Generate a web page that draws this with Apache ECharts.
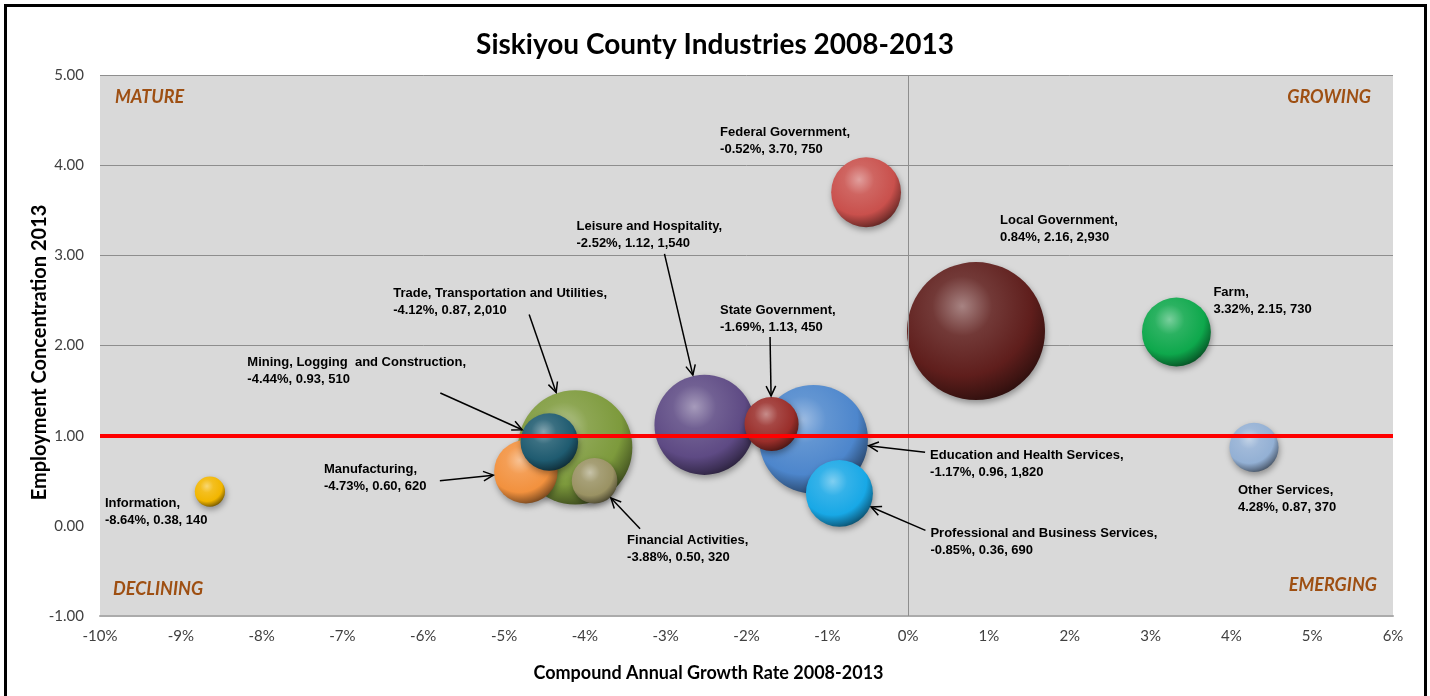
<!DOCTYPE html>
<html><head><meta charset="utf-8">
<script src="https://cdn.jsdelivr.net/npm/echarts@6/dist/echarts.min.js"></script>
<style>html,body{margin:0;padding:0;background:#fff}#c{width:1430px;height:696px}</style>
</head><body><div id="c"></div>
<script>
// ---------------- data ----------------
const industries = ['Information','Manufacturing','Mining, Logging  and Construction','Trade, Transportation and Utilities','Financial Activities','Leisure and Hospitality','State Government','Education and Health Services','Professional and Business Services','Federal Government','Local Government','Farm','Other Services'];
const growthRate = [-8.64,-4.73,-4.44,-4.12,-3.88,-2.52,-1.69,-1.17,-0.85,-0.52,0.84,3.32,4.28];
const concentration = [0.38,0.60,0.93,0.87,0.50,1.12,1.13,0.96,0.36,3.70,2.16,2.15,0.87];
const employment = [140,620,510,2010,320,1540,450,1820,690,750,2930,730,370];
const xTickValues = [-10,-9,-8,-7,-6,-5,-4,-3,-2,-1,0,1,2,3,4,5,6];
const yTickValues = [-1,0,1,2,3,4,5];
const quadrantLabels = ['MATURE','GROWING','DECLINING','EMERGING'];

// ---------------- style / layout ----------------
const bubbleColors = {
  'Information':'#f2b600','Manufacturing':'#f2913e','Mining, Logging  and Construction':'#1f5b70',
  'Trade, Transportation and Utilities':'#7d9a3c','Financial Activities':'#9a9263','Leisure and Hospitality':'#5e4a84',
  'State Government':'#9a2e2a','Education and Health Services':'#4d86cc','Professional and Business Services':'#18a8e6',
  'Federal Government':'#c9504c','Local Government':'#5f1e1c','Farm':'#0ea84c','Other Services':'#93b0d4'
};
// label top-left offset from bubble centre (px)
const labelOffsets = {
  'Information':[-105,3.5],'Manufacturing':[-202,-10.5],'Mining, Logging  and Construction':[-302,-88.5],
  'Trade, Transportation and Utilities':[-182,-162.5],'Financial Activities':[32.5,51.5],'Leisure and Hospitality':[-128,-206.5],
  'State Government':[-51.5,-122.5],'Education and Health Services':[116.5,7.5],'Professional and Business Services':[91,31.5],
  'Federal Government':[-146,-68.5],'Local Government':[24,-119.5],'Farm':[37,-48.5],'Other Services':[-16,34.5]
};
// arrow tail offset from bubble centre (px)
const arrowTails = {
  'Leisure and Hospitality':[-40,-171],'Trade, Transportation and Utilities':[-46,-133],
  'Mining, Logging  and Construction':[-109,-49],'Manufacturing':[-86,9],'Financial Activities':[45.5,48],
  'State Government':[-1.5,-87],'Education and Health Services':[111.5,13],'Professional and Business Services':[86,37]
};
const SIZE_K = 2.55;

function hexToRgb(h){h=h.replace('#','');return [parseInt(h.substr(0,2),16),parseInt(h.substr(2,2),16),parseInt(h.substr(4,2),16)];}
function mix(c, t, a){const r=hexToRgb(c);return 'rgb('+r.map((v,i)=>Math.round(v+(t[i]-v)*a)).join(',')+')';}
function sphere(c){
  return {type:'radial',x:0.4,y:0.32,r:0.72,colorStops:[
    {offset:0,color:mix(c,[255,255,255],0.45)},
    {offset:0.3,color:mix(c,[255,255,255],0.12)},
    {offset:0.7,color:c},
    {offset:0.9,color:mix(c,[0,0,0],0.35)},
    {offset:1,color:mix(c,[0,0,0],0.55)}
  ]};
}

const items = industries.map((n,i)=>({name:n,value:[growthRate[i],concentration[i],employment[i]]}))
  .sort((a,b)=>b.value[2]-a.value[2]);
const seriesData = items.map(it=>({name:it.name,value:it.value,itemStyle:{color:sphere(bubbleColors[it.name])}}));

const chart = echarts.init(document.getElementById('c'));
const baseFont = 'Lato, "Open Sans", sans-serif';
const option = {
  animation:false,
  backgroundColor:'#fff',
  title:{text:'Siskiyou County Industries 2008-2013',left:'center',top:26,
    textStyle:{fontFamily:baseFont,fontWeight:'bold',fontSize:28,color:'#000'}},
  grid:{left:100,right:37,top:75,bottom:80,show:true,backgroundColor:'#d9d9d9',borderWidth:0},
  xAxis:{type:'value',min:xTickValues[0],max:xTickValues[xTickValues.length-1],interval:1,
    name:'Compound Annual Growth Rate 2008-2013',nameLocation:'middle',nameGap:48,
    nameTextStyle:{fontFamily:baseFont,fontWeight:'bold',fontSize:18,color:'#000',padding:[0,76,0,0]},
    axisLine:{show:true,onZero:false,lineStyle:{color:'#ababab',width:2}},
    axisTick:{show:false},splitLine:{show:false},
    axisLabel:{formatter:v=>v+'%',fontFamily:baseFont,fontSize:15,color:'#404040',margin:13}},
  yAxis:{type:'value',min:yTickValues[0],max:yTickValues[yTickValues.length-1],interval:1,
    name:'Employment Concentration 2013',nameLocation:'middle',nameGap:50,nameMoveOverlap:false,
    nameTextStyle:{fontFamily:baseFont,fontWeight:'bold',fontSize:20,color:'#000',padding:[0,14,0,0]},
    axisLine:{show:false},axisTick:{show:false},
    splitLine:{show:true,lineStyle:{width:1,color:['rgba(0,0,0,0)','rgba(0,0,0,0)','#8e8e8e','#8e8e8e','#8e8e8e','#8e8e8e','#8e8e8e']}},
    axisLabel:{formatter:v=>v.toFixed(2),fontFamily:baseFont,fontSize:15,color:'#404040',margin:16}},
  series:[
    {type:'scatter',z:1,data:[],silent:true,
      markLine:{silent:true,symbol:'none',label:{show:false},animation:false,
        data:[
          {xAxis:0,lineStyle:{color:'#8e8e8e',width:1,type:'solid'}},
          {yAxis:1,lineStyle:{color:'#ff0000',width:4,type:'solid'}}
        ]}},
    {type:'scatter',z:3,data:seriesData,
      symbolSize:v=>SIZE_K*Math.sqrt(v[2]),
      itemStyle:{shadowBlur:6,shadowColor:'rgba(0,0,0,0.35)',shadowOffsetX:1,shadowOffsetY:3,opacity:1},
      label:{show:true,position:'inside',fontFamily:'"Liberation Sans", Arial, sans-serif',fontWeight:'bold',fontSize:13,lineHeight:17,color:'#000',
        formatter:p=>p.name+',\n'+p.value[0].toFixed(2)+'%, '+p.value[1].toFixed(2)+', '+p.value[2].toLocaleString('en-US')},
      labelLayout:function(p){
        const it = seriesData[p.dataIndex];
        const off = labelOffsets[it.name];
        const cx = p.rect.x + p.rect.width/2, cy = p.rect.y + p.rect.height/2;
        return {x:cx+off[0],y:cy+off[1],align:'left',verticalAlign:'top'};
      }}
  ]
};
chart.setOption(option);

// graphics: frame, quadrant labels, arrows
const qStyle = {fontFamily:baseFont,fontWeight:'bold',fontStyle:'italic',fontSize:18,fill:'#9e4f12'};
const g = [
  {type:'rect',z:100,silent:true,shape:{x:5.5,y:5.5,width:1420,height:720},style:{fill:'none',stroke:'#000',lineWidth:3}},
  {type:'text',z:50,x:115,y:97,style:Object.assign({text:quadrantLabels[0],align:'left',verticalAlign:'middle'},qStyle)},
  {type:'text',z:50,x:1371,y:97,style:Object.assign({text:quadrantLabels[1],align:'right',verticalAlign:'middle'},qStyle)},
  {type:'text',z:50,x:113,y:589,style:Object.assign({text:quadrantLabels[2],align:'left',verticalAlign:'middle'},qStyle)},
  {type:'text',z:50,x:1377,y:585,style:Object.assign({text:quadrantLabels[3],align:'right',verticalAlign:'middle'},qStyle)}
];
items.forEach(it=>{
  const t = arrowTails[it.name];
  if(!t) return;
  const c = chart.convertToPixel({gridIndex:0},[it.value[0],it.value[1]]);
  const r = SIZE_K*Math.sqrt(it.value[2])/2;
  const len = Math.hypot(t[0],t[1]);
  const ux = t[0]/len, uy = t[1]/len;
  const hx = c[0]+ux*(r+1), hy = c[1]+uy*(r+1);
  const tx = c[0]+t[0], ty = c[1]+t[1];
  const ang = Math.atan2(ty-hy, tx-hx);
  const L = 11, A = 0.45;
  g.push({type:'line',z:60,silent:true,shape:{x1:tx,y1:ty,x2:hx,y2:hy},style:{stroke:'#000',lineWidth:1.5}});
  g.push({type:'polyline',z:60,silent:true,shape:{points:[
    [hx+L*Math.cos(ang+A),hy+L*Math.sin(ang+A)],[hx,hy],[hx+L*Math.cos(ang-A),hy+L*Math.sin(ang-A)]]},
    style:{stroke:'#000',lineWidth:1.5,fill:'none'}});
});
chart.setOption({graphic:g});
</script></body></html>
